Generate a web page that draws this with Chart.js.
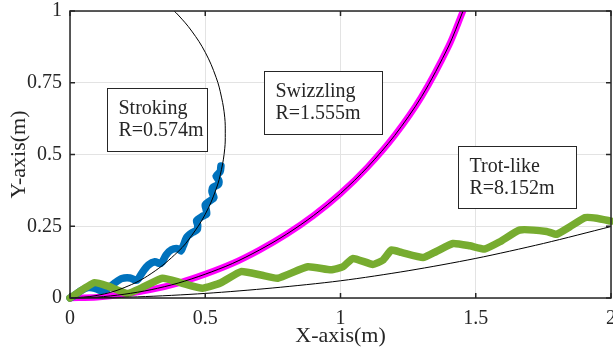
<!DOCTYPE html>
<html>
<head>
<meta charset="utf-8">
<script src="https://cdn.jsdelivr.net/npm/chart.js@4.4.1/dist/chart.umd.min.js"></script>
<style>
  html, body { margin: 0; padding: 0; background: #fff; overflow: hidden; }
  #wrap { width: 613px; height: 348px; }
</style>
</head>
<body>
<div id="wrap"><canvas id="chart" width="613" height="348"></canvas></div>
<script>
// tick labels
const xTicks = [0, 0.5, 1, 1.5, 2];
const yTicks = [0, 0.25, 0.5, 0.75, 1];

// stroking trajectory (blue) and its fitted circle R=0.574m
const strokeX = [0, 0.012, 0.040, 0.066, 0.092, 0.112, 0.138, 0.165, 0.192, 0.222, 0.243, 0.252, 0.268, 0.290, 0.314, 0.332, 0.340, 0.355, 0.375, 0.398, 0.410, 0.418, 0.432, 0.452, 0.470, 0.472, 0.468, 0.490, 0.505, 0.503, 0.500, 0.520, 0.532, 0.525, 0.528, 0.548, 0.550, 0.540, 0.555, 0.558];
const strokeY = [0, 0.006, 0.025, 0.036, 0.034, 0.026, 0.032, 0.052, 0.068, 0.070, 0.062, 0.066, 0.090, 0.115, 0.126, 0.120, 0.124, 0.150, 0.168, 0.172, 0.164, 0.180, 0.212, 0.228, 0.238, 0.255, 0.270, 0.285, 0.292, 0.310, 0.325, 0.340, 0.350, 0.370, 0.385, 0.395, 0.410, 0.425, 0.440, 0.460];
const strokeFitX = [0, 0.1, 0.2, 0.3, 0.4, 0.45, 0.5, 0.54, 0.56, 0.572, 0.574, 0.572, 0.56, 0.54, 0.5, 0.45, 0.4, 0.37];
const strokeFitY = [0, 0.009, 0.036, 0.085, 0.162, 0.218, 0.292, 0.379, 0.448, 0.52, 0.574, 0.63, 0.700, 0.769, 0.856, 0.930, 0.986, 1.013];

// swizzling trajectory (magenta) with fitted circle R=1.555m on top
const swizzX = [0, 0.1, 0.2, 0.3, 0.4, 0.5, 0.6, 0.7, 0.8, 0.9, 1.0, 1.1, 1.2, 1.3, 1.4, 1.45, 1.47];
const swizzY = [0, 0.003, 0.013, 0.029, 0.052, 0.083, 0.120, 0.167, 0.222, 0.287, 0.364, 0.456, 0.566, 0.702, 0.878, 0.993, 1.04];

// trot-like trajectory (green) and its fitted circle R=8.152m
const trotX = [0, 0.089, 0.138, 0.212, 0.262, 0.342, 0.410, 0.490, 0.558, 0.632, 0.706, 0.768, 0.879, 0.965, 1.009, 1.046, 1.120, 1.157, 1.188, 1.225, 1.305, 1.354, 1.416, 1.478, 1.533, 1.589, 1.663, 1.762, 1.799, 1.848, 1.904, 1.947, 2.0];
const trotY = [0, 0.053, 0.042, 0.016, 0.034, 0.069, 0.053, 0.034, 0.053, 0.092, 0.080, 0.069, 0.109, 0.098, 0.109, 0.138, 0.117, 0.132, 0.167, 0.159, 0.141, 0.162, 0.190, 0.182, 0.171, 0.196, 0.237, 0.232, 0.222, 0.248, 0.280, 0.278, 0.268];
const trotFitX = [0, 0.25, 0.5, 0.75, 1, 1.25, 1.5, 1.75, 2];
const trotFitY = [0, 0.004, 0.016, 0.035, 0.060, 0.095, 0.138, 0.190, 0.249];

const pts = (xs, ys) => xs.map((x, i) => ({ x: x, y: ys[i] }));

const FONT = "'Liberation Serif', 'Times New Roman', serif";
const INK = '#262626';

// text boxes (top-left corner in data units, size in px)
const notes = [
  { lines: ['Stroking', 'R=0.574m'], x: 0.137, y: 0.732, w: 100, h: 63 },
  { lines: ['Swizzling', 'R=1.555m'], x: 0.719, y: 0.791, w: 118, h: 63 },
  { lines: ['Trot-like', 'R=8.152m'], x: 1.433, y: 0.530, w: 118, h: 62 }
];

const frame = {
  id: 'frame',
  afterDatasetsDraw(chart) {
    const { ctx, chartArea: a, scales: { x, y } } = chart;
    ctx.save();
    // annotation boxes
    ctx.font = '20px ' + FONT;
    ctx.textBaseline = 'middle';
    notes.forEach(n => {
      const l = Math.round(x.getPixelForValue(n.x)) + 0.5;
      const t = Math.round(y.getPixelForValue(n.y)) + 0.5;
      ctx.fillStyle = '#fff';
      ctx.fillRect(l, t, n.w, n.h);
      ctx.strokeStyle = INK;
      ctx.lineWidth = 1;
      ctx.strokeRect(l, t, n.w, n.h);
      ctx.fillStyle = INK;
      ctx.fillText(n.lines[0], l + 11, t + 20);
      ctx.fillText(n.lines[1], l + 11, t + 42);
    });
    // box + inward ticks
    ctx.strokeStyle = INK;
    ctx.lineWidth = 1.5;
    ctx.strokeRect(a.left, a.top, a.right - a.left, a.bottom - a.top);
    ctx.beginPath();
    xTicks.forEach(v => {
      const p = x.getPixelForValue(v);
      ctx.moveTo(p, a.bottom); ctx.lineTo(p, a.bottom - 5);
      ctx.moveTo(p, a.top); ctx.lineTo(p, a.top + 5);
    });
    yTicks.forEach(v => {
      const p = y.getPixelForValue(v);
      ctx.moveTo(a.left, p); ctx.lineTo(a.left + 5, p);
      ctx.moveTo(a.right, p); ctx.lineTo(a.right - 5, p);
    });
    ctx.stroke();
    ctx.restore();
  }
};

const thin = { borderColor: '#000', borderWidth: 1, pointRadius: 0, showLine: true };

new Chart(document.getElementById('chart'), {
  type: 'scatter',
  data: {
    datasets: [
      Object.assign({ data: pts(strokeFitX, strokeFitY), tension: 0.4, clip: { left: 5, top: 0, right: 5, bottom: 5 } }, thin),
      Object.assign({ data: pts(swizzX, swizzY), tension: 0.3, clip: { left: 5, top: 0, right: 5, bottom: 5 } }, thin),
      Object.assign({ data: pts(trotFitX, trotFitY), tension: 0.3, clip: 5 }, thin),
      {
        data: pts(trotX, trotY), showLine: true, pointRadius: 0,
        borderColor: '#77AC30', borderWidth: 7.5, tension: 0.15,
        borderJoinStyle: 'round', borderCapStyle: 'round', clip: 5
      },
      {
        data: pts(strokeX, strokeY), showLine: true, pointRadius: 0,
        borderColor: '#0072BD', borderWidth: 7.5, tension: 0.25,
        borderJoinStyle: 'round', borderCapStyle: 'round', clip: 5
      },
      {
        data: pts(swizzX, swizzY), showLine: true, pointRadius: 0,
        borderColor: '#FF00FF', borderWidth: 6.5, tension: 0.3,
        borderCapStyle: 'round', clip: { left: 5, top: 0, right: 5, bottom: 5 }
      }
    ]
  },
  options: {
    responsive: false,
    animation: false,
    devicePixelRatio: 1,
    layout: { padding: { top: 11, right: 2, left: 0, bottom: 0 } },
    plugins: { legend: { display: false }, tooltip: { enabled: false } },
    scales: {
      x: {
        type: 'linear', min: 0, max: 2,
        afterBuildTicks: s => { s.ticks = xTicks.map(v => ({ value: v })); },
        afterFit: s => { s.height = 50; s.paddingLeft = 0; s.paddingRight = 0; },
        grid: { color: '#e3e3e3', drawTicks: false },
        border: { display: false },
        ticks: { padding: 9, color: INK, font: { family: FONT, size: 20 }, maxRotation: 0, autoSkip: false, callback: v => String(v) },
        title: { display: true, text: 'X-axis(m)', color: INK, font: { family: FONT, size: 22, lineHeight: 1 }, padding: { top: 0, bottom: 1 } }
      },
      y: {
        type: 'linear', min: 0, max: 1,
        afterBuildTicks: s => { s.ticks = yTicks.map(v => ({ value: v })); },
        afterFit: s => { s.width = 70; s.paddingTop = 0; s.paddingBottom = 0; },
        grid: { color: '#e3e3e3', drawTicks: false },
        border: { display: false },
        ticks: { padding: 8, color: INK, font: { family: FONT, size: 20 }, autoSkip: false, callback: v => String(v) },
        title: { display: true, text: 'Y-axis(m)', color: INK, font: { family: FONT, size: 22, lineHeight: 1 }, padding: { top: 8, bottom: 0 } }
      }
    }
  },
  plugins: [frame]
});
</script>
</body>
</html>
